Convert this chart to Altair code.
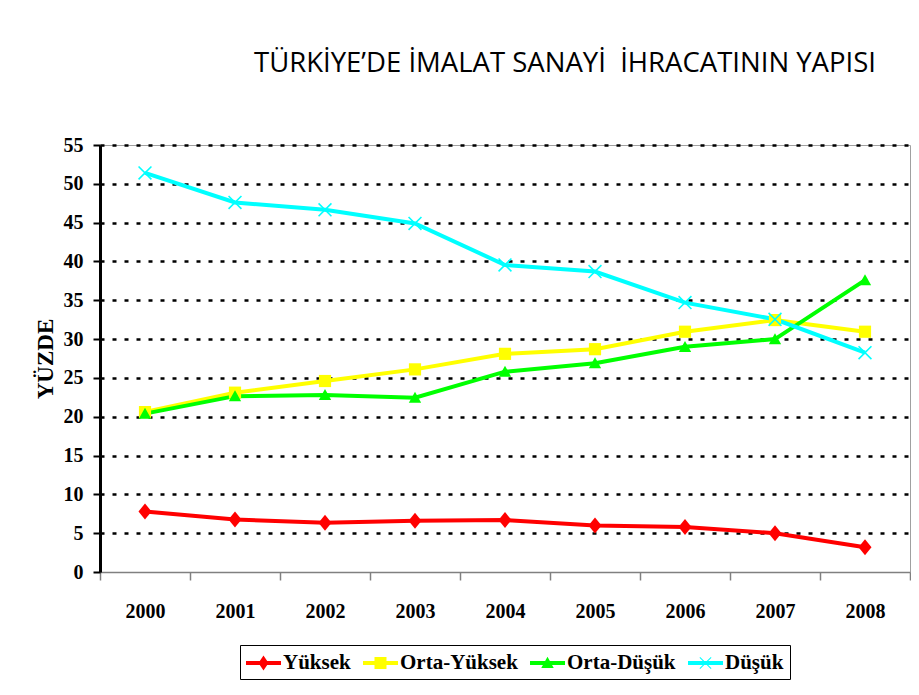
import altair as alt
import pandas as pd

# ---- data ----
years = ["2000", "2001", "2002", "2003", "2004", "2005", "2006", "2007", "2008"]
series_names = ["Yüksek", "Orta-Yüksek", "Orta-Düşük", "Düşük"]
yuksek = [7.8, 6.75, 6.35, 6.6, 6.7, 6.0, 5.8, 5.0, 3.2]
orta_yuksek = [20.6, 23.1, 24.6, 26.1, 28.1, 28.7, 30.95, 32.45, 30.95]
orta_dusuk = [20.4, 22.65, 22.8, 22.45, 25.8, 26.9, 29.0, 30.0, 37.6]
dusuk = [51.4, 47.6, 46.65, 44.9, 39.55, 38.7, 34.7, 32.55, 28.25]
y_ticks = [0, 5, 10, 15, 20, 25, 30, 35, 40, 45, 50, 55]

colors = ["#FF0000", "#FFFF00", "#00FF00", "#00FFFF"]

rows = []
for name, vals in zip(series_names, [yuksek, orta_yuksek, orta_dusuk, dusuk]):
    for yr, v in zip(years, vals):
        rows.append({"yil": yr, "seri": name, "deger": v})
df = pd.DataFrame(rows)


# ---- marker shapes (SVG paths in the unit square) ----
def poly(pts, s=1.0, dx=0.0):
    return "M" + "L".join(f"{x * s + dx:.3f},{y * s:.3f}" for x, y in pts) + "Z"


def x_shape(s=1.0, e=0.16, dx=0.0):
    a = [(-1 + e, -1), (1, 1 - e), (1 - e, 1), (-1, -1 + e)]
    b = [(1, -1 + e), (-1 + e, 1), (-1, 1 - e), (1 - e, -1)]
    return poly(a, s, dx) + poly(b, s, dx)


diamond = [(0, -1.14), (0.93, 0), (0, 1.14), (-0.93, 0)]
square = [(-0.87, -0.87), (0.87, -0.87), (0.87, 0.87), (-0.87, 0.87)]
triangle = [(0, -0.85), (0.88, 0.72), (-0.88, 0.72)]

chart_shapes = [poly(diamond), poly(square), poly(triangle), x_shape()]

# legend symbols: a line with the marker in its middle (symbol size 576 -> 12px per unit)
mid = 0.458
line_bar = poly([(-1, -0.167), (1.917, -0.167), (1.917, 0.167), (-1, 0.167)])
legend_shapes = [
    line_bar + poly([(0, -0.625), (0.42, 0), (0, 0.625), (-0.42, 0)], 1.0, mid),
    line_bar + poly(square, 0.575, mid),
    line_bar + poly([(0, -0.52), (0.52, 0.42), (-0.52, 0.42)], 1.0, mid),
    line_bar + x_shape(0.5, 0.12, mid),
]

serif = "Liberation Serif"

x_enc = alt.X(
    "yil:N",
    sort=years,
    bandPosition=0.5,
    scale=alt.Scale(type="band", paddingInner=0, paddingOuter=0),
    axis=alt.Axis(
        title=None,
        tickBand="extent",
        labelAngle=0,
        labelFont=serif,
        labelFontSize=20,
        labelFontWeight="bold",
        labelColor="black",
        labelPadding=21,
        tickSize=8,
        tickColor="#808080",
        tickWidth=1.5,
        domainColor="#808080",
        domainWidth=1.5,
        grid=False,
    ),
)

y_enc = alt.Y(
    "deger:Q",
    scale=alt.Scale(domain=[0, 55], nice=False),
    axis=alt.Axis(
        values=y_ticks,
        title="YÜZDE",
        titleFont=serif,
        titleFontWeight="bold",
        titleFontSize=23,
        titleColor="black",
        titleAngle=270,
        titleX=-55,
        titleY=213.5,
        titleAlign="center",
        titleBaseline="middle",
        labelFont=serif,
        labelFontSize=20,
        labelFontWeight="bold",
        labelColor="black",
        labelPadding=10,
        tickSize=7,
        tickColor="black",
        tickWidth=2,
        domainColor="black",
        domainWidth=3,
        grid=True,
        gridColor="black",
        gridDash=[4, 8],
        gridWidth=2.5,
        gridOpacity={"expr": "datum.value == 0 ? 0 : 1"},
        labelOverlap=False,
    ),
)

color_scale = alt.Scale(domain=series_names, range=colors)

lines = alt.Chart(df).mark_line(strokeWidth=4).encode(
    x=x_enc,
    y=y_enc,
    color=alt.Color("seri:N", scale=color_scale, legend=None),
)

points = alt.Chart(df).mark_point(filled=True, opacity=1, strokeWidth=0, size=196).encode(
    x=x_enc,
    y=y_enc,
    color=alt.Color("seri:N", scale=color_scale, legend=None),
    shape=alt.Shape("seri:N", scale=alt.Scale(domain=series_names, range=chart_shapes), legend=None),
)

legend_props = dict(
    orient="none",
    legendX=140,
    legendY=500,
    direction="horizontal",
    columns=4,
    title=None,
    symbolSize=576,
    symbolOpacity=1,
    symbolStrokeWidth=0,
    labelFont=serif,
    labelFontWeight="bold",
    labelFontSize=21,
    labelColor="black",
    labelOffset=13,
    labelLimit=0,
    columnPadding=12,
    padding=6,
    strokeColor="black",
    fillColor="white",
)

legend_layer = alt.Chart(df).mark_point(filled=True, opacity=0).encode(
    x=x_enc,
    y=y_enc,
    color=alt.Color("seri:N", scale=color_scale, legend=alt.Legend(**legend_props)),
    shape=alt.Shape(
        "seri:N",
        scale=alt.Scale(domain=series_names, range=legend_shapes),
        legend=alt.Legend(**legend_props),
    ),
)

chart = (
    alt.layer(lines, points, legend_layer)
    .resolve_scale(color="independent", shape="independent")
    .properties(
        width=810,
        height=427,
        autosize=alt.AutoSizeParams(type="none"),
        padding={"left": 92, "top": 137, "right": 1, "bottom": 112},
        background="white",
        title=alt.TitleParams(
            "TÜRKİYE’DE İMALAT SANAYİ\u00a0 İHRACATININ YAPISI",
            font="Open Sans",
            fontSize=27.5,
            fontWeight="normal",
            color="black",
            anchor="middle",
            dx=60,
            offset=58,
        ),
    )
    .configure_view(stroke="#A0A0A0", strokeWidth=1)
)

chart.save("out.html", embed_options={"renderer": "svg", "actions": False})
